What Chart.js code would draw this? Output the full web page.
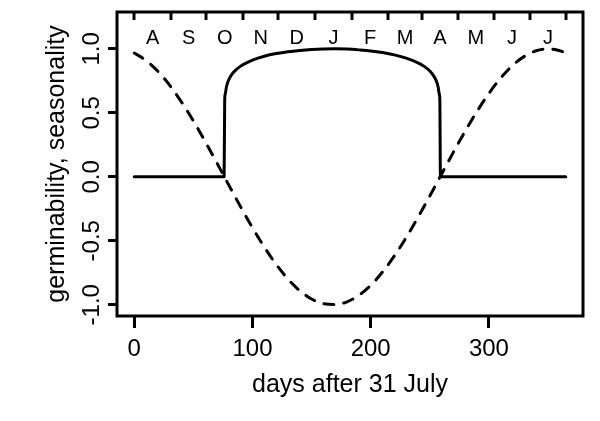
<!DOCTYPE html>
<html>
<head>
<meta charset="utf-8">
<script src="https://cdn.jsdelivr.net/npm/chart.js@4/dist/chart.umd.min.js"></script>
<style>
  html, body { margin: 0; padding: 0; background: #fff; }
  #wrap { width: 600px; height: 421px; }
</style>
</head>
<body>
<div id="wrap"><canvas id="chart" width="600" height="421"></canvas></div>
<script>
// Seasonality (dashed curve)
const seasonDays = [0, 10, 20, 30, 40, 50, 60, 70, 80, 90, 100, 110, 120, 130, 140, 150, 160, 170, 180,
    190, 200, 210, 220, 230, 240, 250, 260, 270, 280, 290, 300, 310, 320, 330, 340, 350, 360, 365];
const seasonality = [0.967, 0.909, 0.824, 0.715, 0.584, 0.437, 0.276, 0.107, -0.065, -0.235, -0.398,
    -0.549, -0.684, -0.799, -0.890, -0.955, -0.992, -0.999, -0.977, -0.926, -0.848, -0.744, -0.619,
    -0.475, -0.317, -0.150, 0.022, 0.193, 0.358, 0.512, 0.652, 0.772, 0.870, 0.941, 0.985, 1.0, 0.985, 0.967];

// Germinability (solid curve)
const germDays = [0, 76, 76.5, 77, 78, 80, 83, 86, 90, 95, 100, 110, 120, 130, 140, 150, 160, 170, 180, 190,
    200, 210, 220, 230, 240, 245, 250, 253, 255, 257, 258, 258.5, 259, 365];
const germinability = [0, 0, 0.60, 0.647, 0.704, 0.760, 0.806, 0.836, 0.865, 0.891, 0.912, 0.942, 0.963,
    0.978, 0.988, 0.995, 0.999, 1.0, 0.998, 0.992, 0.984, 0.971, 0.953, 0.928, 0.891, 0.865, 0.827,
    0.793, 0.760, 0.704, 0.647, 0.60, 0, 0];

// Month boundaries (days after 31 July) and their initials
const monthStarts = [0, 31, 61, 92, 122, 153, 184, 215, 243, 274, 304, 335, 365];
const monthLabels = ['A', 'S', 'O', 'N', 'D', 'J', 'F', 'M', 'A', 'M', 'J', 'J'];

const xTicks = [0, 100, 200, 300];
const yTicks = [-1, -0.5, 0, 0.5, 1];

const FONT = '"Liberation Sans", Arial, Helvetica, sans-serif';

function toPoints(xs, ys) {
    return xs.map((x, i) => ({ x: x, y: ys[i] }));
}

// Box around the plot plus month ticks and letters along the top
const framePlugin = {
    id: 'frame',
    afterDraw(chart) {
        const ctx = chart.ctx;
        const area = chart.chartArea;
        const xs = chart.scales.x;
        ctx.save();
        ctx.strokeStyle = '#000';
        ctx.lineWidth = 3;
        ctx.strokeRect(area.left, area.top, area.right - area.left, area.bottom - area.top);

        ctx.beginPath();
        monthStarts.forEach(d => {
            const px = Math.round(xs.getPixelForValue(d));
            ctx.moveTo(px, area.top);
            ctx.lineTo(px, area.top + 8);
        });
        ctx.stroke();

        ctx.fillStyle = '#000';
        ctx.font = '20px ' + FONT;
        ctx.textAlign = 'center';
        ctx.textBaseline = 'middle';
        monthLabels.forEach((m, i) => {
            const mid = (monthStarts[i] + monthStarts[i + 1]) / 2;
            ctx.fillText(m, xs.getPixelForValue(mid), 38);
        });
        ctx.restore();
    }
};

new Chart(document.getElementById('chart'), {
    type: 'line',
    data: {
        datasets: [
            {
                label: 'germinability',
                data: toPoints(germDays, germinability),
                borderColor: '#000',
                borderWidth: 3,
                pointRadius: 0,
                cubicInterpolationMode: 'monotone',
                borderCapStyle: 'round',
                borderJoinStyle: 'round'
            },
            {
                label: 'seasonality',
                data: toPoints(seasonDays, seasonality),
                borderColor: '#000',
                borderWidth: 3,
                borderDash: [10, 10],
                pointRadius: 0,
                cubicInterpolationMode: 'monotone',
                borderCapStyle: 'round',
                borderJoinStyle: 'round'
            }
        ]
    },
    options: {
        responsive: false,
        animation: false,
        events: [],
        layout: { padding: { top: 12, right: 17, bottom: 0, left: 0 } },
        plugins: { legend: { display: false }, tooltip: { enabled: false } },
        scales: {
            x: {
                type: 'linear',
                min: -14.6,
                max: 379.6,
                afterBuildTicks: scale => { scale.ticks = xTicks.map(v => ({ value: v })); },
                afterFit: scale => { scale.height = 105; },
                border: { display: false },
                grid: { drawOnChartArea: false, tickLength: 12, lineWidth: 3, color: '#000' },
                ticks: { color: '#000', padding: 7, maxRotation: 0, font: { family: FONT, size: 24 } },
                title: {
                    display: true,
                    text: 'days after 31 July',
                    color: '#000',
                    font: { family: FONT, size: 25 },
                    padding: { top: 0, bottom: 21 }
                }
            },
            y: {
                min: -1.088,
                max: 1.288,
                afterBuildTicks: scale => { scale.ticks = yTicks.map(v => ({ value: v })); },
                afterFit: scale => { scale.width = 117; },
                border: { display: false },
                grid: { drawOnChartArea: false, tickLength: 9, lineWidth: 3, color: '#000' },
                ticks: {
                    color: '#000',
                    padding: -5,
                    minRotation: 90,
                    maxRotation: 90,
                    crossAlign: 'center',
                    font: { family: FONT, size: 24 },
                    callback: v => v.toFixed(1)
                },
                title: {
                    display: true,
                    text: 'germinability, seasonality',
                    color: '#000',
                    font: { family: FONT, size: 25 },
                    padding: { top: 42, bottom: 0 }
                }
            }
        }
    },
    plugins: [framePlugin]
});
</script>
</body>
</html>
